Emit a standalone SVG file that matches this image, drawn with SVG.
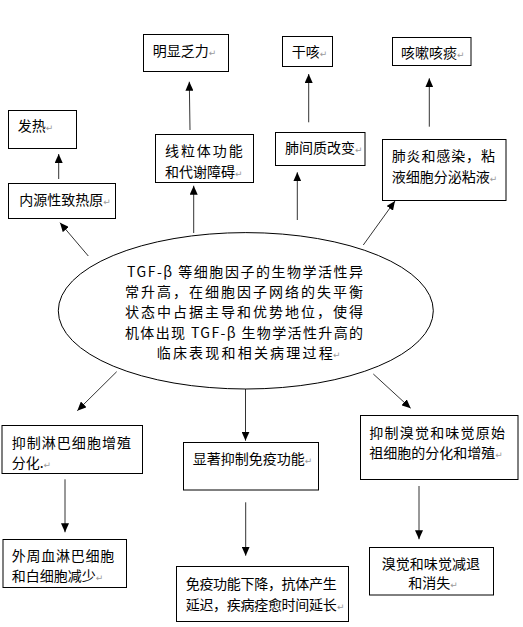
<svg xmlns="http://www.w3.org/2000/svg" width="523" height="627" viewBox="0 0 523 627">
<style>
text{font-family:"Noto Sans CJK SC","DejaVu Sans",sans-serif;font-size:14px;fill:#000}
.m{fill:#9a9a9a;font-size:9px;font-family:"DejaVu Sans",sans-serif}
.box{fill:#fff;stroke:#000;stroke-width:1}
.ln{stroke:#333;stroke-width:1;fill:none;marker-end:url(#ah)}
</style>
<defs>
<marker id="ah" markerUnits="userSpaceOnUse" markerWidth="9" markerHeight="8" viewBox="0 0 9 8" refX="9" refY="4" orient="auto">
<path d="M0,0 L9,4 L0,8 z" fill="#000"/>
</marker>
</defs>
<rect width="523" height="627" fill="#fff"/>
<g id="connectors">
<line class="ln" x1="190" y1="130" x2="189.3" y2="81.7"/>
<line class="ln" x1="308.7" y1="122.3" x2="308.7" y2="74"/>
<line class="ln" x1="429.3" y1="126.7" x2="429.3" y2="78.3"/>
<line class="ln" x1="58.7" y1="179" x2="58.7" y2="154"/>
<line class="ln" x1="193.7" y1="233" x2="193.7" y2="185.7"/>
<line class="ln" x1="297.3" y1="220" x2="297.3" y2="172.3"/>
<line class="ln" x1="88.3" y1="256" x2="60" y2="222.7"/>
<line class="ln" x1="363.3" y1="245" x2="395" y2="201"/>
<line class="ln" x1="116.7" y1="371.7" x2="77.3" y2="410.7"/>
<line class="ln" x1="373.3" y1="374" x2="410.7" y2="408.3"/>
<line class="ln" x1="245.5" y1="389" x2="245.5" y2="440.7"/>
<line class="ln" x1="65" y1="479.3" x2="65" y2="532.3"/>
<line class="ln" x1="245.7" y1="502.3" x2="245.7" y2="555.7"/>
<line class="ln" x1="419" y1="486" x2="419" y2="539.3"/>
</g>
<g id="n-center">
<ellipse cx="245.8" cy="310.8" rx="187.5" ry="78.2" fill="#fff" stroke="#000" stroke-width="1"/>
<text x="127" y="276.7" textLength="236" lengthAdjust="spacing">TGF-β 等细胞因子的生物学活性异</text>
<text x="125" y="297" textLength="238" lengthAdjust="spacing">常升高，在细胞因子网络的失平衡</text>
<text x="125" y="317.3" textLength="238" lengthAdjust="spacing">状态中占据主导和优势地位，使得</text>
<text x="125" y="338.3" textLength="238" lengthAdjust="spacing">机体出现 TGF-β 生物学活性升高的</text>
<text x="156.7" y="358.3" textLength="176" lengthAdjust="spacing">临床表现和相关病理过程</text>
<text class="m" x="333" y="358.3">↵</text>
</g>
<g id="n-fali">
<rect class="box" x="143.5" y="34.5" width="85" height="37"/>
<text x="152.7" y="56">明显乏力<tspan class="m">↵</tspan></text>
</g>
<g id="n-gank">
<rect class="box" x="282.5" y="36.5" width="50" height="30"/>
<text x="291.7" y="57.3">干咳<tspan class="m">↵</tspan></text>
</g>
<g id="n-kesou">
<rect class="box" x="392.5" y="37.5" width="78.5" height="28"/>
<text x="401" y="58.3">咳嗽咳痰<tspan class="m">↵</tspan></text>
</g>
<g id="n-fare">
<rect class="box" x="8.5" y="110.5" width="68" height="38"/>
<text x="17.7" y="131">发热<tspan class="m">↵</tspan></text>
</g>
<g id="n-zhirey">
<rect class="box" x="8.5" y="183.5" width="107" height="35"/>
<text x="19.3" y="205">内源性致热原<tspan class="m">↵</tspan></text>
</g>
<g id="n-xianliti">
<rect class="box" x="155.5" y="134.5" width="98" height="48"/>
<text x="165" y="156" textLength="77.7" lengthAdjust="spacing">线粒体功能</text>
<text x="165" y="176.7">和代谢障碍<tspan class="m">↵</tspan></text>
</g>
<g id="n-feijianzhi">
<rect class="box" x="275.5" y="132.5" width="89.5" height="33"/>
<text x="285" y="153.3">肺间质改变<tspan class="m">↵</tspan></text>
</g>
<g id="n-feiyan">
<rect class="box" x="382.5" y="139.5" width="123.5" height="61"/>
<text x="391.7" y="160.7" textLength="103.3" lengthAdjust="spacing">肺炎和感染，粘</text>
<text x="391.7" y="181.7">液细胞分泌粘液<tspan class="m">↵</tspan></text>
</g>
<g id="n-linba">
<rect class="box" x="2" y="425.5" width="140.5" height="48"/>
<text x="11.7" y="447.7" textLength="119.3" lengthAdjust="spacing">抑制淋巴细胞增殖</text>
<text x="11.7" y="467.7">分化.<tspan class="m">↵</tspan></text>
</g>
<g id="n-waizhou">
<rect class="box" x="3" y="539.5" width="123.5" height="48"/>
<text x="11.7" y="561" textLength="102.6" lengthAdjust="spacing">外周血淋巴细胞</text>
<text x="11.7" y="581">和白细胞减少<tspan class="m">↵</tspan></text>
</g>
<g id="n-mianyi">
<rect class="box" x="183.5" y="442.5" width="135" height="47.5"/>
<text x="192.7" y="464.3">显著抑制免疫功能<tspan class="m">↵</tspan></text>
</g>
<g id="n-xiajiang">
<rect class="box" x="176.5" y="566.5" width="172" height="55"/>
<text x="185.7" y="589.3" textLength="151" lengthAdjust="spacing">免疫功能下降，抗体产生</text>
<text x="185.7" y="610" textLength="151" lengthAdjust="spacing">延迟，疾病痊愈时间延长</text>
<text class="m" x="337" y="610">↵</text>
</g>
<g id="n-xiujue">
<rect class="box" x="360.5" y="415.5" width="157.5" height="64"/>
<text x="369.3" y="438.3" textLength="135.7" lengthAdjust="spacing">抑制溴觉和味觉原始</text>
<text x="369.3" y="458.3">祖细胞的分化和增殖<tspan class="m">↵</tspan></text>
</g>
<g id="n-jiantui">
<rect class="box" x="369.5" y="547.5" width="124" height="47.5"/>
<text x="381.7" y="569" textLength="98.3" lengthAdjust="spacing">溴觉和味觉减退</text>
<text x="408.3" y="588.3">和消失<tspan class="m">↵</tspan></text>
</g>
</svg>
